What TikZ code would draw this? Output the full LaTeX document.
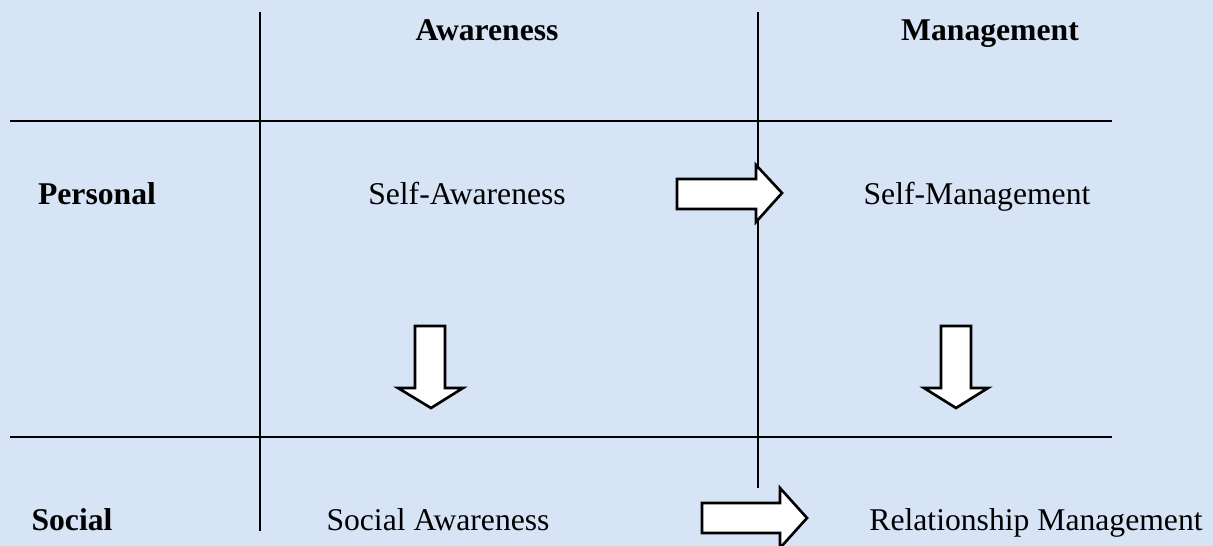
\documentclass[tikz,border=0pt]{standalone}
\usepackage{fontspec}
\setmainfont{Liberation Serif}
\usepackage{xcolor}
\usepackage{tikz}
\usetikzlibrary{positioning}

\definecolor{paleblue}{RGB}{214,228,246}

\begin{document}
\begin{tikzpicture}[
    x=0.01cm, y=-0.01cm,
    grid/.style={line width=0.6pt, black},
    head/.style={font=\fontsize{9}{11}\selectfont\bfseries, anchor=base},
    cell/.style={font=\fontsize{9}{11}\selectfont, anchor=base},
    blockarrow/.style={draw=black, fill=white, line width=0.75pt, line join=miter}
]
    % background
    \fill[paleblue] (0,0) rectangle (1213,546);
    \useasboundingbox (0,0) rectangle (1213,546);

    % grid
    \draw[grid] (260,12) -- (260,531);
    \draw[grid] (758,12) -- (758,488);
    \draw[grid] (10,121) -- (1112,121);
    \draw[grid] (10,437) -- (1112,437);

    % column heads
    \node[head] (awareness) at (487,41) {Awareness};
    \node[head] (management) at (990,41) {Management};

    % row heads
    \node[head] (personal) at (97,205) {Personal};
    \node[head] (social) at (72,530) {Social};

    % cells
    \node[cell] (selfaware) at (467,205) {Self-Awareness};
    \node[cell] (selfmanage) at (977,205) {Self-Management};
    \node[cell] (socialaware) at (438,530) {Social Awareness};
    \node[cell] (relmanage) at (1036,530) {Relationship Management};

    % block arrows
    \draw[blockarrow] (677,179) -- (756,179) -- (756,165) -- (782,193)
        -- (756,222) -- (756,209) -- (677,209) -- cycle;
    \draw[blockarrow] (702,503) -- (780,503) -- (780,488) -- (807,518)
        -- (780,548) -- (780,533) -- (702,533) -- cycle;
    \draw[blockarrow] (415,326) -- (445,326) -- (445,388) -- (463,388)
        -- (431,408) -- (398,388) -- (415,388) -- cycle;
    \draw[blockarrow] (941,326) -- (971,326) -- (971,388) -- (988,388)
        -- (956,408) -- (924,388) -- (941,388) -- cycle;
\end{tikzpicture}
\end{document}
